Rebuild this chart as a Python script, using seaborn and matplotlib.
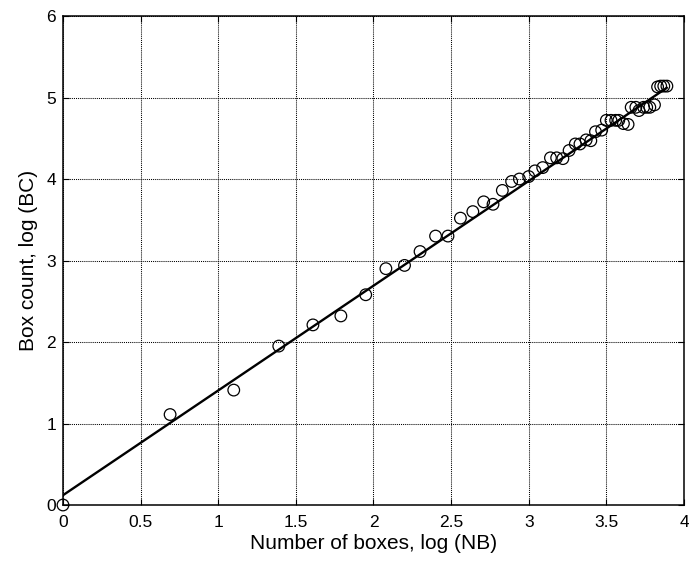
import matplotlib
matplotlib.use("Agg")
import matplotlib.pyplot as plt
import seaborn as sns
import pandas as pd

# Data
log_nb = [0.00, 0.69, 1.10, 1.39, 1.61, 1.79, 1.95, 2.08, 2.20, 2.30,
          2.40, 2.48, 2.56, 2.64, 2.71, 2.77, 2.83, 2.89, 2.94, 3.00,
          3.04, 3.09, 3.14, 3.18, 3.22, 3.26, 3.30, 3.33, 3.37, 3.40,
          3.43, 3.47, 3.50, 3.53, 3.56, 3.58, 3.61, 3.64, 3.66, 3.69,
          3.71, 3.74, 3.76, 3.78, 3.81, 3.83, 3.85, 3.87, 3.89]
log_bc = [0.00, 1.11, 1.41, 1.95, 2.21, 2.32, 2.58, 2.90, 2.94, 3.11,
          3.30, 3.30, 3.52, 3.60, 3.72, 3.69, 3.86, 3.97, 4.00, 4.03,
          4.10, 4.14, 4.26, 4.26, 4.25, 4.35, 4.43, 4.43, 4.48, 4.47,
          4.58, 4.60, 4.72, 4.72, 4.72, 4.72, 4.68, 4.67, 4.88, 4.88,
          4.84, 4.88, 4.88, 4.88, 4.91, 5.13, 5.14, 5.14, 5.14]
fit_x = [0.0, 3.89]
fit_y = [0.12, 5.12]

x_ticks = [0, 0.5, 1, 1.5, 2, 2.5, 3, 3.5, 4]
x_tick_labels = ["0", "0.5", "1", "1.5", "2", "2.5", "3", "3.5", "4"]
y_ticks = [0, 1, 2, 3, 4, 5, 6]
y_tick_labels = ["0", "1", "2", "3", "4", "5", "6"]

sns.set_theme(style="white")
plt.rcParams['font.family'] = ['Liberation Sans', 'DejaVu Sans']

fig = plt.figure(figsize=(6.89, 5.64), dpi=100)
ax = fig.add_axes([0.0914, 0.1046, 0.9013, 0.867])

pts = pd.DataFrame({"x": log_nb, "y": log_bc})
fit = pd.DataFrame({"x": fit_x, "y": fit_y})

sns.lineplot(data=fit, x="x", y="y", ax=ax, color="black", linewidth=1.7, zorder=3)
sns.scatterplot(data=pts, x="x", y="y", ax=ax, marker="o", s=70,
                facecolors="none", edgecolor="black", linewidth=0.9,
                zorder=4, clip_on=False)

ax.set_xlim(0, 4)
ax.set_ylim(0, 6)
ax.set_xticks(x_ticks)
ax.set_xticklabels(x_tick_labels)
ax.set_yticks(y_ticks)
ax.set_yticklabels(y_tick_labels)

ax.grid(True, color="black", linestyle=(0, (1, 1)), linewidth=0.75)
ax.set_axisbelow(True)
for sp in ax.spines.values():
    sp.set_visible(True)
    sp.set_color("black")
    sp.set_linewidth(1.1)

ax.tick_params(axis="both", direction="in", length=4, width=0.8,
               colors="black", labelsize=12.5, top=True, right=True,
               bottom=True, left=True)
ax.tick_params(axis="x", pad=7)
ax.tick_params(axis="y", pad=5)

ax.set_xlabel("Number of boxes, log (NB)", fontsize=15, color="black", labelpad=3)
ax.set_ylabel("Box count, log (BC)", fontsize=15, color="black", labelpad=6)

fig.savefig("out.png", dpi=100, facecolor="white")
